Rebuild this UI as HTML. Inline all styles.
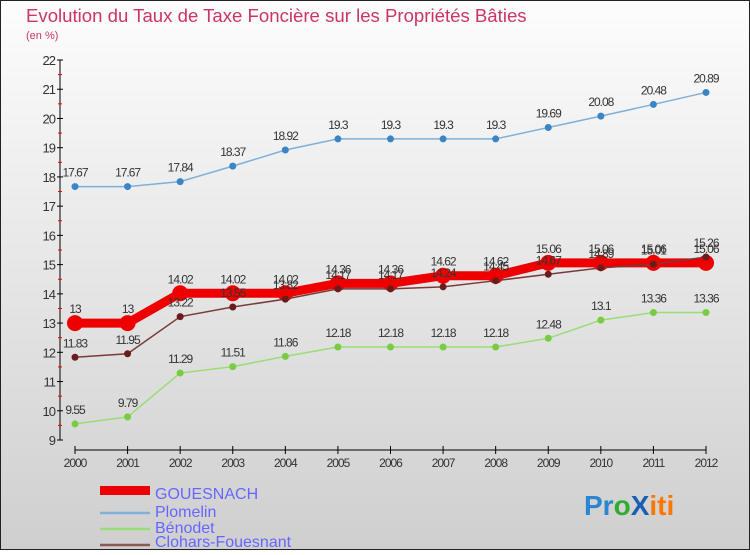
<!DOCTYPE html>
<html><head><meta charset="utf-8"><style>
body{margin:0;width:750px;height:550px;overflow:hidden;font-family:"Liberation Sans",sans-serif}
</style></head><body>
<svg width="750" height="550" xmlns="http://www.w3.org/2000/svg">
<defs><linearGradient id="bg" x1="0" y1="0" x2="0" y2="1"><stop offset="0" stop-color="#fdfdfd"/><stop offset="1" stop-color="#cfcfcf"/></linearGradient></defs>
<rect x="0.5" y="0.5" width="749" height="549" fill="url(#bg)" stroke="#222"/>
<text x="26" y="22" font-size="18.6" fill="#cc3366">Evolution du Taux de Taxe Foncière sur les Propriétés Bâties</text>
<text x="26" y="39" font-size="11" fill="#cc3366">(en %)</text>
<g id="axes"></g><g id="series"></g>
<g font-size="16" fill="#6666ff">
<rect x="100" y="486" width="50" height="9" fill="#ee0000"/>
<text x="155" y="499">GOUESNACH</text>
<line x1="100" y1="513" x2="150" y2="513" stroke="#7fb0d8" stroke-width="2.5"/>
<text x="155" y="517">Plomelin</text>
<line x1="100" y1="529" x2="150" y2="529" stroke="#99dd77" stroke-width="2.5"/>
<text x="155" y="533">Bénodet</text>
<line x1="100" y1="545" x2="150" y2="545" stroke="#8b5a55" stroke-width="2.5"/>
<text x="155" y="547">Clohars-Fouesnant</text>
</g>
<text x="584" y="515" font-size="28" font-weight="bold"><tspan fill="#2a86d0">Pr</tspan><tspan fill="#33aa33">o</tspan><tspan fill="#1a5fb0">X</tspan><tspan fill="#ff7700">iti</tspan></text>
</svg>
<script>
const years=[2000,2001,2002,2003,2004,2005,2006,2007,2008,2009,2010,2011,2012];
const gouesnach=[13,13,14.02,14.02,14.02,14.36,14.36,14.62,14.62,15.06,15.06,15.06,15.06];
const plomelin=[17.67,17.67,17.84,18.37,18.92,19.3,19.3,19.3,19.3,19.69,20.08,20.48,20.89];
const benodet=[9.55,9.79,11.29,11.51,11.86,12.18,12.18,12.18,12.18,12.48,13.1,13.36,13.36];
const clohars=[11.83,11.95,13.22,13.55,13.82,14.17,14.17,14.24,14.45,14.67,14.89,15.01,15.26];
const yTicks=[9,10,11,12,13,14,15,16,17,18,19,20,21,22];
const NS="http://www.w3.org/2000/svg";
const X=i=>75+i*(706-75)/(years.length-1);
const Y=v=>440-(v-9)*(380/13);
function mk(t,a,p){const e=document.createElementNS(NS,t);for(const k in a)e.setAttribute(k,a[k]);p.appendChild(e);return e;}
const ax=document.getElementById('axes');
const yl=mk('line',{x1:60,y1:60,x2:60,y2:440,stroke:'#000'},ax);


const xl=mk('line',{x1:75,y1:450,x2:706,y2:450,stroke:'#000'},ax);


yTicks.forEach(v=>{
  mk('line',{x1:57,y1:Y(v),x2:63,y2:Y(v),stroke:'#000'},ax);
  if(v<22) mk('line',{x1:58,y1:Y(v+0.5),x2:62,y2:Y(v+0.5),stroke:'#e00'},ax);
  const t=mk('text',{x:55,y:Y(v)+5,'text-anchor':'end','font-size':13,fill:'#333','letter-spacing':'-1'},ax);
  t.textContent=v;
  
  
});
years.forEach((y,i)=>{
  mk('line',{x1:X(i),y1:446,x2:X(i),y2:454,stroke:'#000'},ax);
  const t=mk('text',{x:X(i),y:467,'text-anchor':'middle','font-size':12,fill:'#333','letter-spacing':'-1'},ax);
  t.textContent=y;
  
  
});
const sg=document.getElementById('series');
function series(name,vals,color,dot,w,r){
  const g=mk('g',{},sg);
  
  
  mk('polyline',{points:vals.map((v,i)=>X(i)+','+Y(v)).join(' '),fill:'none',stroke:color,'stroke-width':w},g);
  vals.forEach((v,i)=>{
    const c=mk('circle',{cx:X(i),cy:Y(v),r:r,fill:dot},g);
    
    
    const t=mk('text',{x:X(i),y:Y(v)-10,'text-anchor':'middle','font-size':12,fill:'#333','letter-spacing':'-1'},g);
    t.textContent=v;
  });
}
series('benodet',benodet,'#99dd77','#77cc44',1.5,3.5);
series('plomelin',plomelin,'#7fb0d8','#3a85c5',1.5,3.5);
series('gouesnach',gouesnach,'#ee0000','#ee0000',9,8);
series('clohars',clohars,'#7a3a3a','#6a1c1c',1.5,3.5);
</script>
</body></html>
